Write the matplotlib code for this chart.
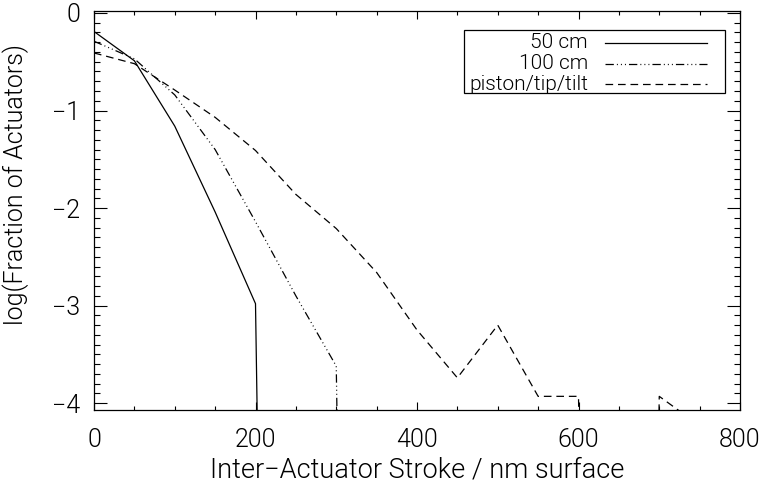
import matplotlib
matplotlib.use("Agg")
import matplotlib.pyplot as plt
from matplotlib.lines import Line2D
from matplotlib.patches import Rectangle
from matplotlib.ticker import MultipleLocator

# ---- data (log10 of fraction of actuators per stroke bin) ----
LOG_ZERO = -30.0   # empty bin -> line drops off the bottom of the plot

stroke = [0, 50, 100, 150, 200, 250, 300, 350, 400, 450, 500, 550, 600, 650, 700, 750]

frac_50cm = [-0.19, -0.49, -1.16, -2.04, -2.98, LOG_ZERO]
frac_100cm = [-0.29, -0.47, -0.84, -1.40, -2.14, -2.90, -3.62, LOG_ZERO]
frac_ptt = [-0.41, -0.52, -0.79, -1.07, -1.41, -1.86, -2.21, -2.66, -3.25,
            -3.74, -3.20, -3.93, -3.93, LOG_ZERO, -3.93, -4.23]

series_labels = ["50 cm", "100 cm", "piston/tip/tilt"]

# ---- style ----
FW = 300
plt.rcParams["font.family"] = ["Roboto", "DejaVu Sans"]
plt.rcParams["font.weight"] = FW
plt.rcParams["axes.labelweight"] = FW
plt.rcParams["lines.scale_dashes"] = False

STYLES = ["-", (0, (6, 2.2, 0.7, 2.2, 0.7, 2.2, 0.7, 2.2)), (0, (5.5, 3.5))]

fig = plt.figure(figsize=(7.61, 4.86), dpi=100)
ax = fig.add_axes([94 / 761, 76 / 486, 646 / 761, 399 / 486])

lw = 0.9
for ys, st, lab in zip([frac_50cm, frac_100cm, frac_ptt], STYLES, series_labels):
    ax.plot(stroke[:len(ys)], ys, color="black", lw=lw, ls=st, label=lab)

ax.set_xlim(0, 800)
ax.set_ylim(-4.07, 0.02)

ax.xaxis.set_major_locator(MultipleLocator(200))
ax.xaxis.set_minor_locator(MultipleLocator(50))
ax.yaxis.set_major_locator(MultipleLocator(1))
ax.yaxis.set_minor_locator(MultipleLocator(0.1))

ax.tick_params(which="both", direction="in", top=True, right=True,
               width=0.8, color="black")
ax.tick_params(axis="x", which="major", length=6, pad=13, labelsize=18)
ax.tick_params(axis="x", which="minor", length=3)
ax.tick_params(axis="y", which="major", length=9.5, pad=10, labelsize=18)
ax.tick_params(axis="y", which="minor", length=4.5)
for sp in ax.spines.values():
    sp.set_linewidth(0.9)

ax.set_xlabel("Inter\u2212Actuator Stroke / nm surface", fontsize=19.5,
              fontweight=FW, labelpad=3)
ax.set_ylabel("log(Fraction of Actuators)", fontsize=18, fontweight=FW,
              labelpad=4)
ax.yaxis.set_label_coords(-0.1, 0.565)

# legend box drawn IDL-style: right-aligned text, line sample to the right
ax.add_patch(Rectangle((0.572, 0.7945), 0.4048, 0.158, transform=ax.transAxes,
                       fill=True, facecolor="white", edgecolor="black",
                       lw=0.9, zorder=5))
for i, (st, lab) in enumerate(zip(STYLES, series_labels)):
    yy = 0.9198 - i * 0.0514
    ax.text(0.7647, yy, lab, transform=ax.transAxes, ha="right", va="center",
            fontsize=15, fontweight=FW, zorder=6)
    ax.add_line(Line2D([0.791, 0.949], [yy, yy], transform=ax.transAxes,
                       color="black", lw=lw, ls=st, zorder=6))

fig.savefig("out.png", dpi=100)
